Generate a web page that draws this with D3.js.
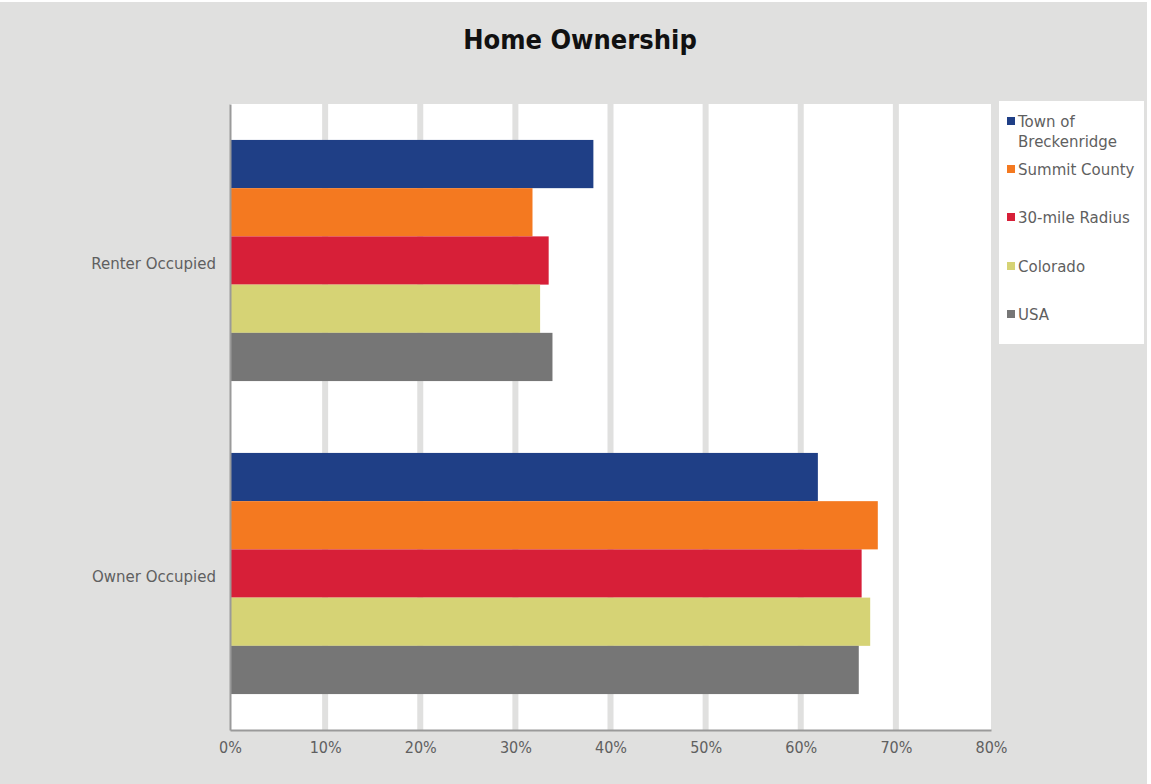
<!DOCTYPE html>
<html>
<head>
<meta charset="utf-8">
<script src="https://cdn.jsdelivr.net/npm/d3@7"></script>
<style>
  body { margin: 0; background: #fff; }
  svg { display: block; }
</style>
</head>
<body>
<div id="chart"></div>
<script>
// data
var categories = ["Renter Occupied", "Owner Occupied"];
var seriesNames = ["Town of Breckenridge", "Summit County", "30-mile Radius", "Colorado", "USA"];
var seriesColors = ["#1f3f86", "#f47920", "#d71f38", "#d6d375", "#767676"];
var renterValues = [38.2, 31.8, 33.5, 32.6, 33.9];
var ownerValues = [61.8, 68.1, 66.4, 67.3, 66.1];
var xTicks = [0, 10, 20, 30, 40, 50, 60, 70, 80];

var w = 1151;
var h = 784;
var plotLeft = 230, plotRight = 991, plotTop = 104, plotBottom = 730;
var font = "'DejaVu Sans Condensed', 'DejaVu Sans', sans-serif";
var labelFont = "'DejaVu Sans', sans-serif";

var rows = [];
for (var i = 0; i < categories.length; i++) {
    var vals = i == 0 ? renterValues : ownerValues;
    for (var j = 0; j < seriesNames.length; j++) {
        rows.push({ "cat": categories[i], "series": seriesNames[j], "value": vals[j], "color": seriesColors[j] });
    }
}

var svg = d3.select("#chart")
    .append("svg")
    .attr("width", w)
    .attr("height", h);

// background
svg.append("rect")
    .attr("x", 0).attr("y", 2)
    .attr("width", 1147).attr("height", h - 2)
    .attr("fill", "#e0e0df");

var xScale = d3.scaleLinear()
    .domain([0, 80])
    .range([plotLeft, plotRight]);

var y0 = d3.scaleBand()
    .domain(categories)
    .range([plotTop, plotBottom])
    .paddingInner(0)
    .paddingOuter(0);

var y1 = d3.scaleBand()
    .domain(seriesNames)
    .range([0, y0.bandwidth()])
    .paddingInner(0)
    .paddingOuter(0.745);

// plot area
svg.append("rect")
    .attr("x", plotLeft).attr("y", plotTop)
    .attr("width", plotRight - plotLeft).attr("height", plotBottom - plotTop)
    .attr("fill", "#ffffff");

// gridlines
svg.append("g")
    .selectAll("line")
    .data(xTicks.filter(function (d) { return d > 0 && d < 80; }))
    .enter().append("line")
    .attr("x1", function (d) { return xScale(d); })
    .attr("x2", function (d) { return xScale(d); })
    .attr("y1", plotTop)
    .attr("y2", plotBottom)
    .attr("stroke", "#e0e0df")
    .attr("stroke-width", 6);

// bars
svg.append("g")
    .selectAll("rect")
    .data(rows)
    .enter().append("rect")
    .attr("x", xScale(0))
    .attr("y", function (d) { return y0(d.cat) + y1(d.series); })
    .attr("width", function (d) { return xScale(d.value) - xScale(0); })
    .attr("height", y1.bandwidth())
    .attr("fill", function (d) { return d.color; });

// axes
var xAxis = d3.axisBottom(xScale)
    .tickValues(xTicks)
    .tickSize(0)
    .tickPadding(12)
    .tickFormat(function (d) { return d + "%"; });

var gx = svg.append("g")
    .attr("transform", "translate(0," + plotBottom + ")")
    .call(xAxis);
gx.select(".domain").attr("stroke", "#9a9a9a").attr("stroke-width", 2);
gx.selectAll("text")
    .attr("fill", "#5f5f5f")
    .style("font-family", font)
    .style("font-size", "16px");

var yAxis = d3.axisLeft(y0)
    .tickSize(0)
    .tickPadding(14);

var gy = svg.append("g")
    .attr("transform", "translate(" + plotLeft + ",0)")
    .call(yAxis);
gy.select(".domain").attr("stroke", "#9a9a9a").attr("stroke-width", 2);
gy.selectAll("text")
    .attr("fill", "#5f5f5f")
    .attr("dy", "0.55em")
    .style("font-family", labelFont)
    .style("font-size", "15px");

// title
svg.append("text")
    .text("Home Ownership")
    .attr("x", 580)
    .attr("y", 49)
    .attr("text-anchor", "middle")
    .attr("font-weight", "bold")
    .style("font-family", font)
    .style("font-size", "27px")
    .attr("fill", "#111");

// legend
var legend = svg.append("g");
legend.append("rect")
    .attr("x", 999).attr("y", 101)
    .attr("width", 145).attr("height", 243)
    .attr("fill", "#ffffff");

var legendY = [117, 165, 213, 262, 310];
var items = legend.selectAll("g.item")
    .data(seriesNames)
    .enter().append("g")
    .attr("class", "item")
    .attr("transform", function (d, i) { return "translate(1007," + legendY[i] + ")"; });

items.append("rect")
    .attr("width", 8).attr("height", 8)
    .attr("fill", function (d, i) { return seriesColors[i]; });

items.append("text")
    .attr("x", 11)
    .attr("y", 10)
    .attr("fill", "#5f5f5f")
    .style("font-family", labelFont)
    .style("font-size", "15px")
    .each(function (d) {
        var t = d3.select(this);
        if (d == "Town of Breckenridge") {
            t.append("tspan").attr("x", 11).text("Town of");
            t.append("tspan").attr("x", 11).attr("dy", 20).text("Breckenridge");
        } else {
            t.text(d);
        }
    });
</script>
</body>
</html>
